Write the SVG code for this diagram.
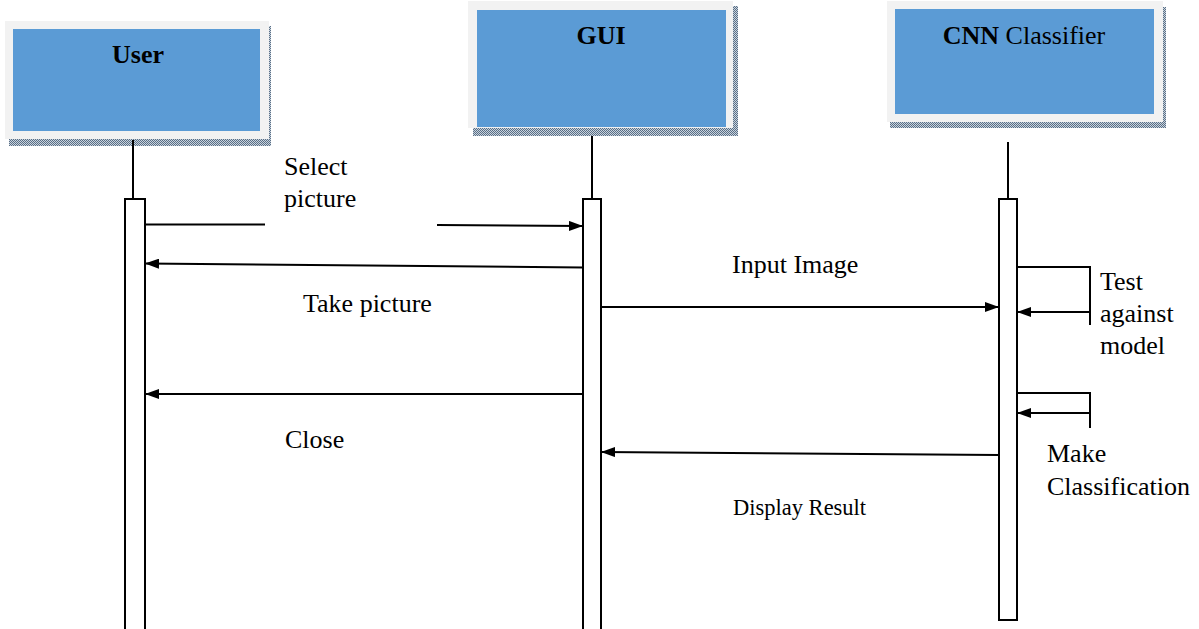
<svg xmlns="http://www.w3.org/2000/svg" width="1199" height="629" viewBox="0 0 1199 629">
<defs>
<pattern id="dots" width="2" height="2" patternUnits="userSpaceOnUse">
<rect width="2" height="2" fill="#c9d3dd"/>
<rect width="1" height="1" fill="#5a6f86"/>
<rect x="1" y="1" width="1" height="1" fill="#5a6f86"/>
</pattern>
<marker id="ah" markerWidth="14" markerHeight="10" refX="14" refY="5" orient="auto" markerUnits="userSpaceOnUse">
<path d="M0,0 L14,5 L0,10 Z" fill="#000"/>
</marker>
<style>
.shadow{fill:url(#dots)}
.frame{fill:#f2f2f2}
.blue{fill:#5b9bd5}
.life{stroke:#000;stroke-width:2;fill:none}
.act{fill:#fff;stroke:#000;stroke-width:2}
.msg{stroke:#000;stroke-width:2;fill:none}
text{font-family:"Liberation Serif",serif;fill:#000}
.t{font-size:26px;font-weight:normal}
.tb{font-size:26px;font-weight:bold}
.ts{font-size:22.5px;font-weight:normal}
</style>
</defs>
<rect width="1199" height="629" fill="#fff"/>
<g id="user">
<rect class="shadow" x="9" y="26" width="262" height="120"/>
<rect class="frame" x="5" y="21" width="264" height="118"/>
<rect class="blue" x="13" y="29" width="247" height="102"/>
<text class="tb" x="138" y="63" text-anchor="middle">User</text>
<line class="life" x1="133" y1="140" x2="133" y2="199"/>
<rect class="act" x="125" y="199" width="20" height="440"/>
</g>
<g id="gui">
<rect class="shadow" x="473" y="6" width="265" height="130"/>
<rect class="frame" x="468" y="1" width="265" height="127"/>
<rect class="blue" x="477" y="10" width="249" height="117"/>
<text class="tb" x="601" y="44" text-anchor="middle">GUI</text>
<line class="life" x1="592" y1="136" x2="592" y2="199"/>
<rect class="act" x="583" y="199" width="18" height="440"/>
</g>
<g id="cnn">
<rect class="shadow" x="890" y="7" width="276" height="121"/>
<rect class="frame" x="887" y="1" width="276" height="121"/>
<rect class="blue" x="895" y="9" width="259" height="105"/>
<text class="t" x="1024" y="44" text-anchor="middle"><tspan font-weight="bold">CNN</tspan> Classifier</text>
<line class="life" x1="1008" y1="142" x2="1008" y2="199"/>
<rect class="act" x="999" y="199" width="18" height="421"/>
</g>
<g id="connectors">
<line class="msg" x1="145" y1="224.5" x2="265" y2="224.5"/>
<line class="msg" x1="437" y1="225" x2="583" y2="226" marker-end="url(#ah)"/>
<line class="msg" x1="583" y1="267.5" x2="145" y2="263.5" marker-end="url(#ah)"/>
<line class="msg" x1="601" y1="307" x2="999" y2="307" marker-end="url(#ah)"/>
<line class="msg" x1="583" y1="394" x2="145" y2="394" marker-end="url(#ah)"/>
<line class="msg" x1="999" y1="455" x2="601" y2="452" marker-end="url(#ah)"/>
<polyline class="msg" points="1017,267 1090,267 1090,325"/>
<line class="msg" x1="1090" y1="312" x2="1017" y2="312" marker-end="url(#ah)"/>
<polyline class="msg" points="1017,393 1090,393 1090,428"/>
<line class="msg" x1="1090" y1="413" x2="1017" y2="413" marker-end="url(#ah)"/>
</g>
<g id="labels">
<text class="t" x="284" y="175">Select</text>
<text class="t" x="284" y="207">picture</text>
<text class="t" x="303" y="312">Take picture</text>
<text class="t" x="732" y="273">Input Image</text>
<text class="t" x="285" y="448">Close</text>
<text class="ts" x="733" y="515">Display Result</text>
<text class="t" x="1100" y="290">Test</text>
<text class="t" x="1100" y="322">against</text>
<text class="t" x="1100" y="354">model</text>
<text class="t" x="1047" y="462">Make</text>
<text class="t" x="1047" y="495">Classification</text>
</g>
</svg>
